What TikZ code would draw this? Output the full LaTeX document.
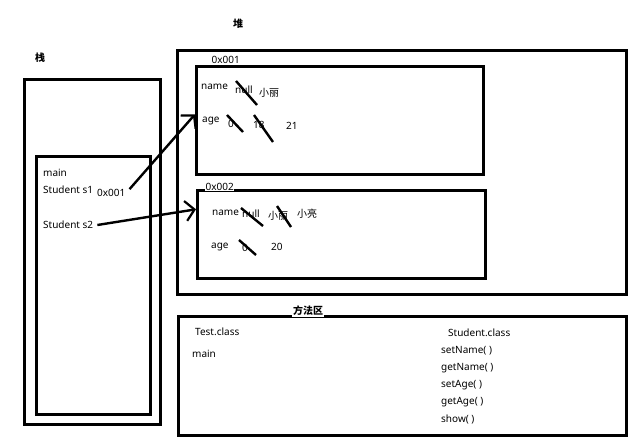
\documentclass[tikz,border=0pt]{standalone}
\usepackage{fontspec}
\setmainfont{Noto Sans}
\newfontfamily\cjk{Noto Sans CJK SC}
\usetikzlibrary{arrows.meta}
\begin{document}
\begin{tikzpicture}[x=1pt, y=-1pt,
    area/.style={draw, line width=2.6pt, anchor=north west, inner sep=0pt},
    txt/.style={anchor=west, inner sep=0pt, font=\fontsize{10}{12}\selectfont},
    zh/.style={txt, font=\fontsize{10}{12}\selectfont\cjk},
    title/.style={inner sep=0pt, font=\fontsize{10}{12}\selectfont\cjk\bfseries},
    ptr/.style={-{Straight Barb[length=9pt, width=20pt, line width=2.2pt]}, line width=2.4pt},
    strike/.style={line width=2.4pt}
]
\useasboundingbox (0,0) rectangle (640,442);
% stack
\node[title] (stacklbl) at (40,58) {栈};
\node[area, minimum width=136pt, minimum height=345pt] (stack) at (23,78) {};
\node[area, minimum width=114pt, minimum height=258pt] (frame) at (35,155) {};
\node[txt] (mainvar) at (43,173) {main};
\node[txt] (s1) at (43,190) {Student s1};
\node[txt] (s1ref) at (97,193) {0x001};
\node[txt] (s2) at (43,225) {Student s2};
% heap
\node[title] (heaplbl) at (238,24) {堆};
\node[area, minimum width=449pt, minimum height=244pt] (heap) at (176,49) {};
\node[area, minimum width=287pt, minimum height=108pt] (obj1) at (195,65) {};
\node[txt, fill=white, inner sep=0.5pt] (addr1) at (211,60) {0x001};
\node[txt] (name1) at (201,87) {name};
\node[txt] (null1) at (235,90) {null};
\node[zh] (li1) at (259,93) {小丽};
\node[txt] (age1) at (202,121) {age};
\node[txt] (zero1) at (228,124) {0};
\node[txt] (eighteen) at (253,125) {18};
\node[txt] (twentyone) at (286,126) {21};
\draw[strike] (236,81) -- (257,105);
\draw[strike] (227,115) -- (243,132);
\draw[strike] (254,115) -- (273,142);
\node[area, minimum width=288pt, minimum height=88pt] (obj2) at (196,189) {};
\node[txt, fill=white, inner sep=0.5pt] (addr2) at (205,187) {0x002};
\node[txt] (name2) at (212,213) {name};
\node[txt] (null2) at (242,214) {null};
\node[zh] (li2) at (268,216) {小丽};
\node[zh] (liang) at (297,214) {小亮};
\node[txt] (age2) at (211,247) {age};
\node[txt] (zero2) at (242,248) {0};
\node[txt] (twenty) at (271,247) {20};
\draw[strike] (241,208) -- (263,226);
\draw[strike] (277,206) -- (291,227);
\draw[strike] (239,240) -- (256,255);
% references
\draw[ptr] ([xshift=4pt]s1ref.north east) -- ([yshift=6pt]obj1.west);
\draw[ptr] ([xshift=4pt]s2.east) -- ([yshift=25pt]obj2.west);
% method area
\node[area, minimum width=448pt, minimum height=119pt] (method) at (177,315) {};
\node[title, fill=white, inner sep=1pt] (methodlbl) at (308,311) {方法区};
\node[txt] (testcls) at (195,332) {Test.class};
\node[txt] (mainm) at (192,354) {main};
\node[txt] (stucls) at (448,333) {Student.class};
\node[txt] (m1) at (441,351) {setName( )};
\node[txt] (m2) at (441,368) {getName( )};
\node[txt] (m3) at (441,385) {setAge( )};
\node[txt] (m4) at (441,402) {getAge( )};
\node[txt] (m5) at (441,419) {show( )};
\end{tikzpicture}
\end{document}
